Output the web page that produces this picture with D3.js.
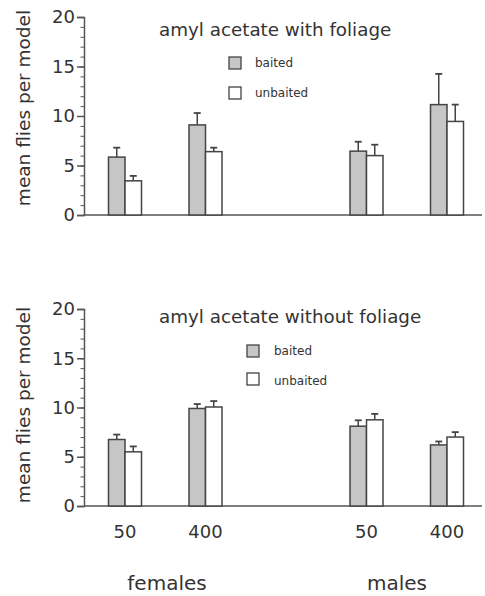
<html>
<head>
  <meta charset="UTF-8">
  <script src="https://d3js.org/d3.v7.min.js"></script>
  <style>
    body { margin: 0; background: #ffffff; }
    text { font-family: "DejaVu Sans", sans-serif; fill: #333; }
  </style>
</head>
<body>
  <svg id="chart" width="485" height="596"></svg>
  <script>
    // group labels along the x axis and the slot each one takes (slot 2 is the gap)
    const doses = ["50", "400", "50", "400"];
    const slots = [0, 1, 3, 4];
    const sexes = ["females", "males"];
    const series = ["baited", "unbaited"];
    const titles = ["amyl acetate with foliage", "amyl acetate without foliage"];

    // with foliage
    const withBaited = [5.85, 9.1, 6.45, 11.15];
    const withBaitedErr = [0.95, 1.2, 0.95, 3.1];
    const withUnbaited = [3.45, 6.4, 6.0, 9.45];
    const withUnbaitedErr = [0.5, 0.4, 1.1, 1.7];

    // without foliage
    const withoutBaited = [6.75, 9.9, 8.1, 6.2];
    const withoutBaitedErr = [0.5, 0.45, 0.6, 0.35];
    const withoutUnbaited = [5.5, 10.05, 8.75, 7.0];
    const withoutUnbaitedErr = [0.55, 0.6, 0.6, 0.5];

    const yTicks = [0, 5, 10, 15, 20];

    const svg = d3.select("#chart");
    const x = d3.scaleLinear().domain([0, 4]).range([125, 447]);
    const barW = 16.5;
    const colors = { baited: "#c6c6c6", unbaited: "#ffffff" };

    const panels = [
      { title: titles[0], top: 17, bottom: 215, titleY: 36, labelY: 108,
        legendX: 229, legendY: [57, 87], textX: 255, textY: [67, 97],
        data: { baited: [withBaited, withBaitedErr], unbaited: [withUnbaited, withUnbaitedErr] } },
      { title: titles[1], top: 309, bottom: 506, titleY: 323, labelY: 405,
        legendX: 247, legendY: [345, 373], textX: 274, textY: [355, 385],
        data: { baited: [withoutBaited, withoutBaitedErr], unbaited: [withoutUnbaited, withoutUnbaitedErr] } }
    ];

    panels.forEach(p => {
      const y = d3.scaleLinear().domain([0, 20]).range([p.bottom, p.top]);
      const g = svg.append("g");

      // y axis with minor ticks every unit
      g.append("g")
        .attr("transform", "translate(84,0)")
        .call(d3.axisLeft(y).tickValues(d3.range(0, 21, 1)).tickSize(3.5).tickFormat(""))
        .call(a => a.selectAll("line").attr("stroke", "#555").attr("stroke-width", 1))
        .call(a => a.select(".domain").remove());
      g.append("g")
        .attr("transform", "translate(84,0)")
        .call(d3.axisLeft(y).tickValues(yTicks).tickSize(7).tickPadding(2))
        .call(a => a.selectAll("line").attr("stroke", "#555").attr("stroke-width", 1.5))
        .call(a => a.select(".domain").attr("stroke", "#555").attr("stroke-width", 1.5))
        .call(a => a.selectAll("text").style("font-family", "DejaVu Sans").style("font-size", "18px").attr("fill", "#333"));

      // baseline
      g.append("line")
        .attr("x1", 84).attr("x2", 482)
        .attr("y1", y(0)).attr("y2", y(0))
        .attr("stroke", "#555").attr("stroke-width", 1.5);

      g.append("text")
        .attr("transform", "translate(23," + p.labelY + ") rotate(-90)")
        .attr("text-anchor", "middle")
        .attr("dominant-baseline", "central")
        .style("font-size", "18.5px")
        .text("mean flies per model");

      g.append("text")
        .attr("x", 159).attr("y", p.titleY)
        .style("font-size", "18.3px")
        .text(p.title);

      // legend
      series.forEach((s, i) => {
        g.append("rect")
          .attr("x", p.legendX).attr("y", p.legendY[i])
          .attr("width", 12).attr("height", 12)
          .attr("fill", colors[s]).attr("stroke", "#444").attr("stroke-width", 1.3);
        g.append("text")
          .attr("x", p.textX).attr("y", p.textY[i])
          .style("font-size", "12px")
          .text(s);
      });

      // bars + error bars
      series.forEach((s, si) => {
        const vals = p.data[s][0], errs = p.data[s][1];
        const bx = i => x(slots[i]) - barW + si * barW;
        const items = vals.map((v, i) => ({ v: v, e: errs[i], i: i }));

        g.selectAll("line.err-" + s).data(items).join("line")
          .attr("x1", d => bx(d.i) + barW / 2).attr("x2", d => bx(d.i) + barW / 2)
          .attr("y1", d => y(d.v)).attr("y2", d => y(d.v + d.e))
          .attr("stroke", "#444").attr("stroke-width", 1.5);
        g.selectAll("line.cap-" + s).data(items).join("line")
          .attr("x1", d => bx(d.i) + barW / 2 - 3.5).attr("x2", d => bx(d.i) + barW / 2 + 3.5)
          .attr("y1", d => y(d.v + d.e)).attr("y2", d => y(d.v + d.e))
          .attr("stroke", "#444").attr("stroke-width", 1.8);

        g.selectAll("rect.bar-" + s).data(items).join("rect")
          .attr("x", d => bx(d.i))
          .attr("y", d => y(d.v))
          .attr("width", barW)
          .attr("height", d => y(0) - y(d.v))
          .attr("fill", colors[s])
          .attr("stroke", "#444").attr("stroke-width", 1.5);
      });
    });

    // x labels (shown once under the lower panel)
    svg.selectAll("text.dose").data(doses).join("text")
      .attr("x", (d, i) => x(slots[i]))
      .attr("y", 538)
      .attr("text-anchor", "middle")
      .style("font-size", "18px")
      .text(d => d);

    const sexX = [167, 397];
    svg.selectAll("text.sex").data(sexes).join("text")
      .attr("x", (d, i) => sexX[i])
      .attr("y", 590)
      .attr("text-anchor", "middle")
      .style("font-size", "20px")
      .text(d => d);
  </script>
</body>
</html>
